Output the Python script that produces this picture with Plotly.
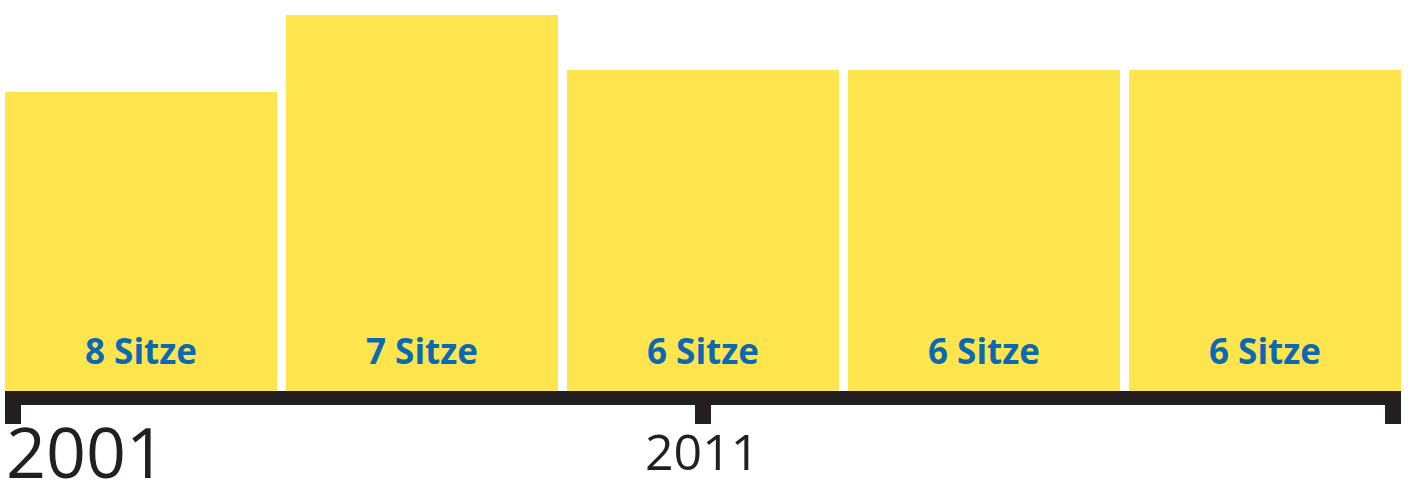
import plotly.graph_objects as go

categories = ["A", "B", "C", "D", "E"]
values = [7.95, 10.0, 8.54, 8.54, 8.54]
labels = ["8 Sitze", "7 Sitze", "6 Sitze", "6 Sitze", "6 Sitze"]
year_ticks = [2001, 2011, 2021]
year_labels = ["2001", "2011"]
year_sizes = [70, 50]

YELLOW = "#FEE54D"
BLUE = "#0B69B3"
DARK = "#231F20"

fig = go.Figure()
fig.add_trace(go.Bar(x=categories, y=values, marker=dict(color=YELLOW, line=dict(width=0)),
                     hoverinfo="skip", showlegend=False))
# invisible trace to activate xaxis2
fig.add_trace(go.Scatter(x=[year_ticks[0], year_ticks[-1]], y=[0, 0], xaxis="x2", mode="markers",
                         marker=dict(opacity=0), hoverinfo="skip", showlegend=False))

for c, lab in zip(categories, labels):
    fig.add_annotation(x=c, y=0, xref="x", yref="y", text=f"<b>{lab}</b>", showarrow=False,
                       yanchor="middle", yshift=41,
                       font=dict(family="Open Sans", size=35, color=BLUE))

fig.add_annotation(x=year_ticks[0], y=0, xref="x2", yref="y", text=year_labels[0], showarrow=False,
                   xanchor="left", xshift=-9, yanchor="middle", yshift=-60,
                   font=dict(family="Open Sans", size=year_sizes[0], color=DARK))
fig.add_annotation(x=year_ticks[1], y=0, xref="x2", yref="y", text=year_labels[1], showarrow=False,
                   xanchor="center", xshift=-1, yanchor="middle", yshift=-60,
                   font=dict(family="Open Sans", size=year_sizes[1], color=DARK))

px_per_year = 69.0
half = 8 / px_per_year
fig.update_layout(
    width=1408, height=480,
    margin=dict(l=5, r=7, t=0, b=89),
    paper_bgcolor="white", plot_bgcolor="white",
    bargap=0.032,
    xaxis=dict(range=[-0.484, 4.484], showgrid=False, zeroline=False, showticklabels=False,
               showline=False, ticks=""),
    xaxis2=dict(overlaying="x", anchor="y", side="bottom",
                range=[year_ticks[0] - half, year_ticks[-1] + half],
                tickvals=year_ticks, showticklabels=False, showgrid=False, zeroline=False,
                showline=True, linewidth=14, linecolor=DARK,
                ticks="outside", ticklen=19, tickwidth=16, tickcolor=DARK),
    yaxis=dict(range=[0, 10.4], showgrid=False, zeroline=False, showticklabels=False,
               showline=False, ticks=""),
)
fig.write_html("out.html", config={"displayModeBar": False},
               post_script="document.body.style.margin='0';document.body.style.overflow='hidden';")
